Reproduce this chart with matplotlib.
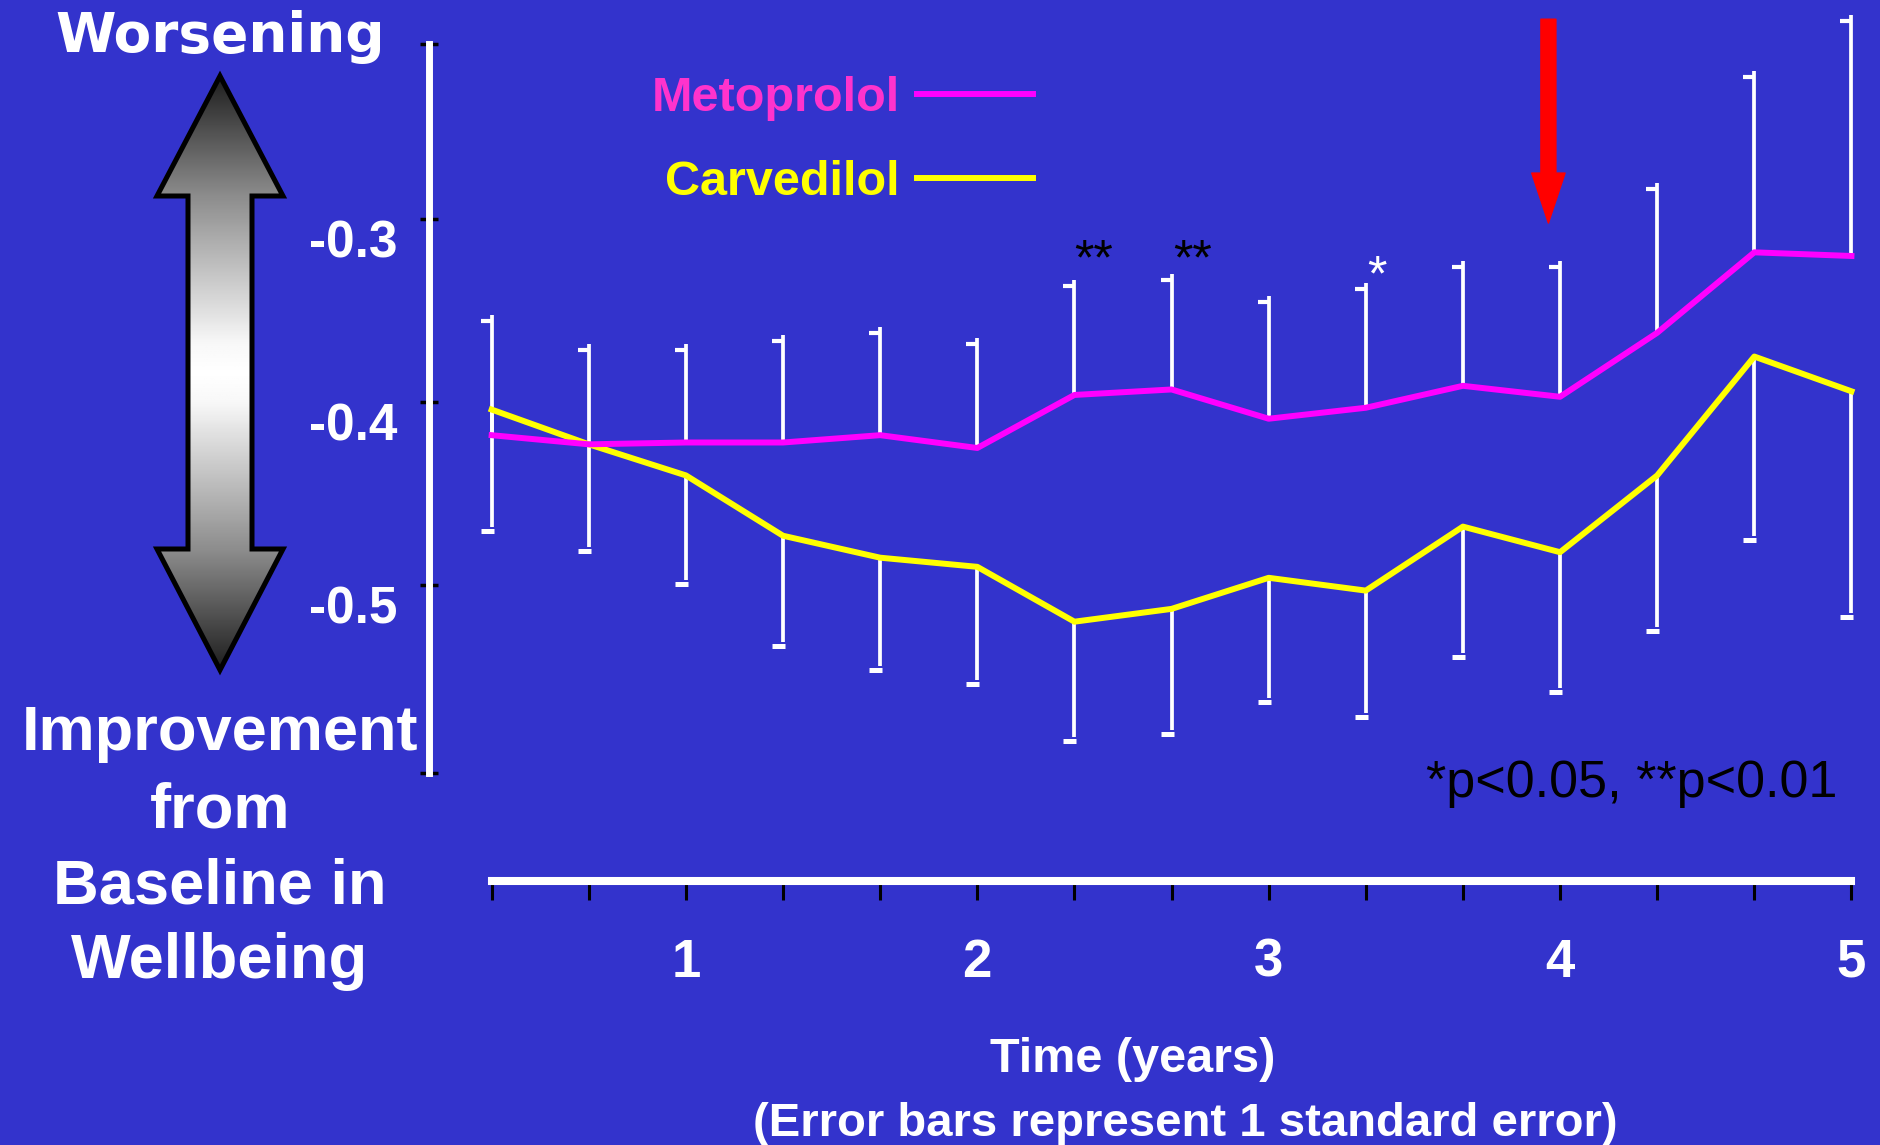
import matplotlib
matplotlib.use('Agg')
import matplotlib.pyplot as plt
from matplotlib.patches import Polygon
from matplotlib.path import Path
import numpy as np

plt.rcParams['font.family']=['Liberation Sans','DejaVu Sans']

W,H=1880,1145
BG='#3333CC'

#Data (change from baseline in wellbeing score).
months=[4,8,12,16,20,24,28,32,36,40,44,48,52,56,60]
metoprolol=[-0.418,-0.423,-0.422,-0.422,-0.418,-0.425,-0.396,-0.393,-0.409,-0.403,-0.391,-0.397,-0.362,-0.318,-0.320]
metoprolol_upper=[-0.352,-0.368,-0.368,-0.363,-0.359,-0.365,-0.333,-0.330,-0.342,-0.335,-0.323,-0.323,-0.280,-0.219,-0.188]
carvedilol=[-0.404,-0.423,-0.440,-0.473,-0.485,-0.490,-0.520,-0.513,-0.496,-0.503,-0.468,-0.482,-0.440,-0.375,-0.394]
carvedilol_lower=[-0.468,-0.479,-0.497,-0.531,-0.544,-0.552,-0.583,-0.579,-0.562,-0.570,-0.537,-0.556,-0.523,-0.473,-0.515]
y_ticks=[-0.204,-0.3,-0.4,-0.5,-0.603]
y_tick_labels=['','-0.3','-0.4','-0.5','']
x_tick_labels=['','','1','','','2','','','3','','','4','','','5']
star_text=['**','**','*']
star_year=[2.40,2.74,3.37]
star_value=[-0.330,-0.330,-0.339]
star_color=['black','black','white']
arrow_year=3.96

years=np.array(months)/12

fig=plt.figure(figsize=(W/100,H/100),dpi=100,facecolor=BG)
ax=fig.add_axes([0,0,1,1])
ax.patch.set_alpha(0)
ax.set_xlim(-1.354,5.098)
ax.set_ylim(-0.8062,-0.18)

#Axes lines.
for s in ['top','right']:
    ax.spines[s].set_visible(False)
ax.spines['left'].set_position(('data',0.118))
ax.spines['left'].set_bounds(y_ticks[-1],y_ticks[0])
ax.spines['left'].set_color('white')
ax.spines['left'].set_linewidth(5)
ax.spines['bottom'].set_position(('data',-0.6618))
ax.spines['bottom'].set_bounds(years[0],years[-1])
ax.spines['bottom'].set_color('white')
ax.spines['bottom'].set_linewidth(5.8)

ax.set_yticks(y_ticks,y_tick_labels)
ax.set_xticks(years,x_tick_labels)
ax.tick_params(axis='y',direction='inout',length=13,width=2.5,color='black',
               labelcolor='white',labelsize=37,pad=16)
ax.tick_params(axis='x',direction='out',length=14,width=2.2,color='black',
               labelcolor='white',labelsize=38,pad=27)
for lbl in ax.get_yticklabels():
    lbl.set_fontweight('bold')
    lbl.set_verticalalignment('top')
for lbl in ax.get_xticklabels():
    lbl.set_fontweight('bold')

#Error bars (one side each) with flag-like caps.
cap_up=Path([(-1,-0.5),(0,-0.5)],[Path.MOVETO,Path.LINETO])
cap_dn=Path([(-1,-0.35),(0.2,-0.35)],[Path.MOVETO,Path.LINETO])
ax.vlines(years,metoprolol,metoprolol_upper,color='white',lw=2.7,zorder=2)
ax.vlines(years,carvedilol_lower,carvedilol,color='white',lw=2.7,zorder=2)
ax.plot(years,metoprolol_upper,ls='none',marker=cap_up,ms=16,mec='white',mfc='none',mew=3,zorder=2)
ax.plot(years,carvedilol_lower,ls='none',marker=cap_dn,ms=16,mec='white',mfc='none',mew=3.6,zorder=2)

lc,=ax.plot(years,carvedilol,color='#FFFF00',lw=4.3,zorder=3)
lm,=ax.plot(years,metoprolol,color='#FF00FF',lw=4.3,zorder=4)

ax.legend(handles=[lm,lc],labels=['Metoprolol','Carvedilol'],loc='upper right',
          bbox_to_anchor=(1033/W,1-76/H),bbox_transform=fig.transFigure,
          markerfirst=False,frameon=False,labelcolor=['#FF33CC','#FFFF00'],
          prop=dict(family='Liberation Sans',weight='bold',size=35),
          handlelength=2.38,handletextpad=0.36,labelspacing=0.8,
          borderpad=0,borderaxespad=0)

for s,x,y,c in zip(star_text,star_year,star_value,star_color):
    ax.text(x,y,s,ha='center',va='baseline',fontsize=36,color=c)

ax.annotate('',xy=(arrow_year,-0.302),xytext=(arrow_year,-0.1905),
            arrowprops=dict(color='#FF0000',width=10.8,headwidth=24,headlength=36,shrink=0))

#Overlay in pixel coordinates for the decoration and free text.
ov=fig.add_axes([0,0,1,1])
ov.axis('off')
arrow_pts=[(220,76),(283,196),(252,196),(252,549),(283,549),(220,670),
           (157,549),(188,549),(188,196),(157,196)]
poly=Polygon(arrow_pts,closed=True,facecolor='none',edgecolor='black',lw=3.6,zorder=3)
ov.add_patch(poly)
d=np.abs(np.linspace(76,670,300)-373)/297
shade=np.interp(d,[0,0.1,0.6,1.0],[1.0,0.97,0.55,0.12])
im=ov.imshow(np.tile(shade[:,None],(1,4)),extent=(157,283,670,76),cmap='gray',
             vmin=0,vmax=1,aspect='auto',zorder=2)
im.set_clip_path(poly)
ov.set_xlim(0,W)
ov.set_ylim(H,0)

ov.text(220,52,'Worsening',ha='center',va='baseline',fontsize=39.5,
        color='white',fontweight='bold',family='DejaVu Sans')
for txt,yb in zip(['Improvement','from','Baseline in','Wellbeing'],[750,827,903,978]):
    ov.text(220,yb,txt,ha='center',va='baseline',fontsize=45.5,color='white',fontweight='bold')
ov.text(1426,797,'*p<0.05, **p<0.01',ha='left',va='baseline',fontsize=37.5,color='black')
ov.text(1133,1072,'Time (years)',ha='center',va='baseline',fontsize=35,color='white',fontweight='bold')
ov.text(1185,1136,'(Error bars represent 1 standard error)',ha='center',va='baseline',
        fontsize=34,color='white',fontweight='bold')

fig.savefig('out.png',dpi=100,facecolor=BG)
